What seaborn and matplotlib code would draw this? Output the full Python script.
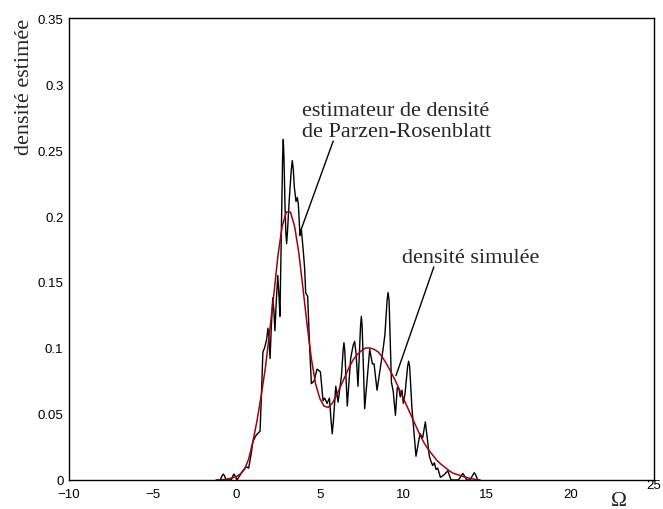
import matplotlib
matplotlib.use("Agg")
import matplotlib.pyplot as plt
import seaborn as sns
import pandas as pd

# ---- data ----
# simulated density (red, smooth)
sim_x = [-1.0, -0.75, -0.5, -0.25, 0.0, 0.25, 0.5, 0.75, 1.0, 1.25, 1.5, 1.75,
         2.0, 2.25, 2.5, 2.75, 3.0, 3.25, 3.5, 3.75, 4.0, 4.25, 4.5, 4.75,
         5.0, 5.25, 5.5, 5.75, 6.0, 6.25, 6.5, 6.75, 7.0, 7.25, 7.5, 7.75,
         8.0, 8.25, 8.5, 8.75, 9.0, 9.25, 9.5, 9.75, 10.0, 10.25, 10.5, 10.75,
         11.0, 11.25, 11.5, 11.75, 12.0, 12.25, 12.5, 12.75, 13.0, 13.25, 13.5,
         13.75, 14.0, 14.25, 14.5]
sim_y = [0.0, 0.0003, 0.0008, 0.0015, 0.0025, 0.0045, 0.008, 0.016, 0.029, 0.045,
         0.064, 0.085, 0.112, 0.140, 0.170, 0.192, 0.203, 0.203, 0.192, 0.172,
         0.145, 0.117, 0.092, 0.073, 0.062, 0.056, 0.055, 0.058, 0.064, 0.071,
         0.078, 0.085, 0.091, 0.095, 0.098, 0.100, 0.100, 0.099, 0.097, 0.093,
         0.088, 0.082, 0.076, 0.069, 0.062, 0.055, 0.048, 0.041, 0.034, 0.028,
         0.023, 0.019, 0.015, 0.012, 0.0095, 0.007, 0.005, 0.004, 0.003, 0.002,
         0.0012, 0.0006, 0.0]

# Parzen-Rosenblatt estimate (black, noisy)
est_x = [-1.2, -0.95, -0.85, -0.77, -0.69, -0.6, -0.3, -0.2, -0.13, -0.06, 0.05,
         0.2, 0.4, 0.6, 0.75, 0.9, 1.0, 1.2, 1.43, 1.5, 1.6, 1.7, 1.83, 1.9,
         1.96, 2.03, 2.1, 2.19, 2.26, 2.32, 2.4, 2.49, 2.56, 2.62, 2.72, 2.78,
         2.82, 2.86, 2.92, 2.97, 3.02, 3.07, 3.18, 3.3, 3.36, 3.42, 3.48, 3.58,
         3.66, 3.72, 3.82, 3.9, 4.02, 4.1, 4.16, 4.28, 4.4, 4.5, 4.66, 4.84,
         5.04, 5.2, 5.3, 5.44, 5.58, 5.68, 5.75, 5.82, 5.96, 6.1, 6.3, 6.4, 6.45,
         6.5, 6.65, 6.85, 7.0, 7.09, 7.18, 7.29, 7.44, 7.49, 7.54, 7.69, 7.99,
         8.15, 8.25, 8.43, 8.79, 8.9, 9.03, 9.09, 9.15, 9.29, 9.4, 9.53, 9.64,
         9.74, 9.82, 9.92, 10.0, 10.1, 10.26, 10.32, 10.38, 10.52, 10.76, 11.0,
         11.16, 11.32, 11.56, 11.66, 11.76, 11.86, 11.96, 12.06, 12.22, 12.45,
         12.66, 12.86, 13.3, 13.48, 13.56, 13.64, 13.8, 14.0, 14.17, 14.25,
         14.33, 14.45, 14.6]
est_y = [0.0, 0.0, 0.003, 0.0045, 0.003, 0.0, 0.0, 0.003, 0.0045, 0.003, 0.0,
         0.003, 0.007, 0.010, 0.009, 0.020, 0.029, 0.034, 0.037, 0.060, 0.097,
         0.100, 0.107, 0.115, 0.108, 0.092, 0.115, 0.138, 0.128, 0.113, 0.135,
         0.155, 0.140, 0.124, 0.200, 0.245, 0.258, 0.245, 0.210, 0.188, 0.179,
         0.188, 0.213, 0.235, 0.242, 0.235, 0.222, 0.211, 0.214, 0.209, 0.185,
         0.190, 0.173, 0.160, 0.142, 0.139, 0.100, 0.073, 0.075, 0.084, 0.082,
         0.060, 0.062, 0.058, 0.062, 0.045, 0.035, 0.045, 0.071, 0.059, 0.079,
         0.098, 0.104, 0.098, 0.056, 0.092, 0.102, 0.105, 0.095, 0.071, 0.116,
         0.124, 0.116, 0.054, 0.099, 0.088, 0.088, 0.068, 0.099, 0.110, 0.136,
         0.142, 0.136, 0.074, 0.067, 0.049, 0.070, 0.069, 0.063, 0.068, 0.058,
         0.065, 0.086, 0.090, 0.086, 0.054, 0.018, 0.035, 0.032, 0.044, 0.018,
         0.014, 0.011, 0.013, 0.008, 0.009, 0.002, 0.004, 0.007, 0.0, 0.0,
         0.0035, 0.005, 0.0035, 0.0, 0.0, 0.004, 0.0055, 0.004, 0.0, 0.0]

x_ticks = [-10, -5, 0, 5, 10, 15, 20, 25]
x_tick_labels = ["\u221210", "\u22125", "0", "5", "10", "15", "20", "25"]
y_ticks = [0, 0.05, 0.1, 0.15, 0.2, 0.25, 0.3, 0.35]
y_tick_labels = ["0", "0.05", "0.1", "0.15", "0.2", "0.25", "0.3", "0.35"]

label_est = "estimateur de densité\nde Parzen-Rosenblatt"
label_sim = "densité simulée"
ylabel = "densité estimée"
xlabel = "Ω"

# ---- plotting ----
sns.set_style("white")
plt.rcParams["font.family"] = ["Liberation Sans", "DejaVu Sans"]

fig = plt.figure(figsize=(6.63, 5.10), dpi=100)
ax = fig.add_axes([0.1041, 0.0569, 0.8823, 0.9058])

df_est = pd.DataFrame({"x": est_x, "y": est_y})
df_sim = pd.DataFrame({"x": sim_x, "y": sim_y})
sns.lineplot(data=df_est, x="x", y="y", ax=ax, color="black", linewidth=1.0,
             sort=False, estimator=None, solid_joinstyle="round")
sns.lineplot(data=df_sim, x="x", y="y", ax=ax, color="#a30010", linewidth=1.1,
             sort=False, estimator=None)

ax.set_xlim(-10, 25)
ax.set_ylim(0, 0.35)
ax.set_xticks(x_ticks)
ax.set_xticklabels(x_tick_labels)
ax.set_yticks(y_ticks)
ax.set_yticklabels(y_tick_labels)
ax.tick_params(direction="in", length=5, width=0.8, labelsize=9.5, color="black",
               labelcolor="black", top=False, right=False, pad=4)
ax.tick_params(axis="x", pad=5.5)
for s in ax.spines.values():
    s.set_color("black")
    s.set_linewidth(1.0)
    s.set_visible(True)

# last x tick label appears raised in the reference
ax.xaxis.get_major_ticks()[-1].set_pad(-1)

serif = ["Liberation Serif", "DejaVu Serif"]
ax.set_ylabel(ylabel, family=serif, fontsize=16, loc="top")
ax.yaxis.set_label_coords(-0.06, 1.0)
ax.set_xlabel("")
ax.text(22.9, -0.0085, xlabel, family=serif, fontsize=15.5, ha="center", va="top",
        clip_on=False)

# annotations
ax.annotate(label_est, xy=(3.78, 0.186), xytext=(3.94, 0.2568),
            family=serif, fontsize=16, ha="left", va="bottom",
            multialignment="left", linespacing=1.15,
            arrowprops=dict(arrowstyle="-", color="black", lw=1.0,
                            shrinkA=0, shrinkB=0, relpos=(0.165, 0.0),
                            patchA=None))
ax.annotate(label_sim, xy=(9.56, 0.079), xytext=(9.905, 0.1614),
            family=serif, fontsize=16, ha="left", va="bottom",
            arrowprops=dict(arrowstyle="-", color="black", lw=1.0,
                            shrinkA=0, shrinkB=0, relpos=(0.234, 0.0),
                            patchA=None))

fig.savefig("out.png", dpi=100)
